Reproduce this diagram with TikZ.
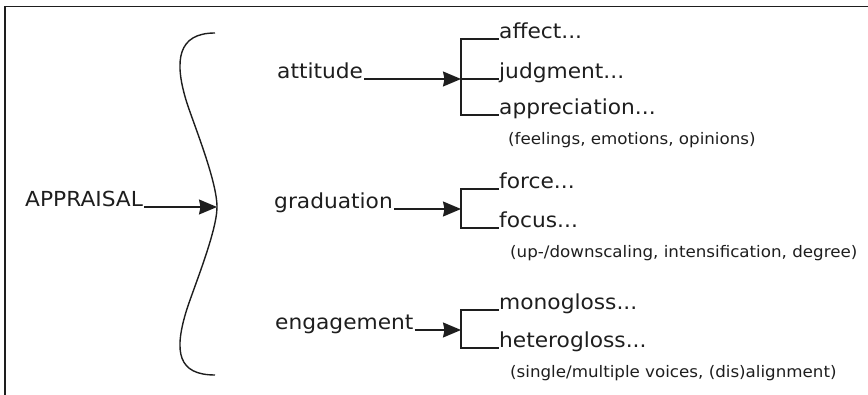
\documentclass[tikz,border=0pt]{standalone}
\usepackage{fontspec}
\setmainfont{DejaVu Sans}[FakeStretch=1.05]
\usetikzlibrary{arrows.meta}
\definecolor{ink}{HTML}{1E1E1E}
\begin{document}
\begin{tikzpicture}[x=1pt,y=-1pt,
  lbl/.style={inner sep=0pt, anchor=base west, font=\fontsize{20.7}{24}\selectfont, text=ink},
  note/.style={inner sep=0pt, anchor=base west, font=\fontsize{15.9}{20}\selectfont, text=ink},
  ln/.style={line width=1.4pt, draw=ink},
  arr/.style={ln, -{Stealth[length=18pt,width=15pt,inset=1.5pt]}}]
\useasboundingbox (0,0) rectangle (868,395);
\draw[line width=1.8pt, draw=ink] (868,6.5) -- (5,6.5) -- (5,395);

% brace
\coordinate (cusp) at (217,207);
\draw[ln] (215,33) .. controls (178,33) and (174,60) .. (186,100)
  .. controls (192,120) and (217,180) .. (cusp)
  .. controls (217,232) and (192,292) .. (186,312)
  .. controls (174,352) and (178,375) .. (215,375);

\node[lbl] (app) at (25,207) {APPRAISAL};
\draw[arr] ([xshift=1pt]app.base east) -- (cusp);

% attitude
\node[lbl] (att) at (277,79) {attitude};
\coordinate (b1) at (461,79);
\node[lbl] (aff) at (499,39) {affect...};
\node[lbl] (jud) at (499,79) {judgment...};
\node[lbl] (apr) at (499,115) {appreciation...};
\node[note] (n1) at (508,145) {(feelings, emotions, opinions)};
\draw[arr] ([xshift=1pt]att.base east) -- (b1);
\draw[ln] (aff.base west) -| (b1) |- (apr.base west);
\draw[ln] (jud.base west) -- (b1);

% graduation
\node[lbl] (gra) at (274,209) {graduation};
\coordinate (b2) at (461,209);
\node[lbl] (for) at (499,189) {force...};
\node[lbl] (foc) at (499,228) {focus...};
\node[note] (n2) at (510,258) {(up-/downscaling, intensification, degree)};
\draw[arr] ([xshift=1pt]gra.base east) -- (b2);
\draw[ln] (for.base west) -| (b2) |- (foc.base west);

% engagement
\node[lbl] (eng) at (275,330) {engagement};
\coordinate (b3) at (461,330);
\node[lbl] (mon) at (499,310) {monogloss...};
\node[lbl] (het) at (499,348) {heterogloss...};
\node[note] (n3) at (510,378) {(single/multiple voices, (dis)alignment)};
\draw[arr] ([xshift=1pt]eng.base east) -- (b3);
\draw[ln] (mon.base west) -| (b3) |- (het.base west);
\end{tikzpicture}
\end{document}
